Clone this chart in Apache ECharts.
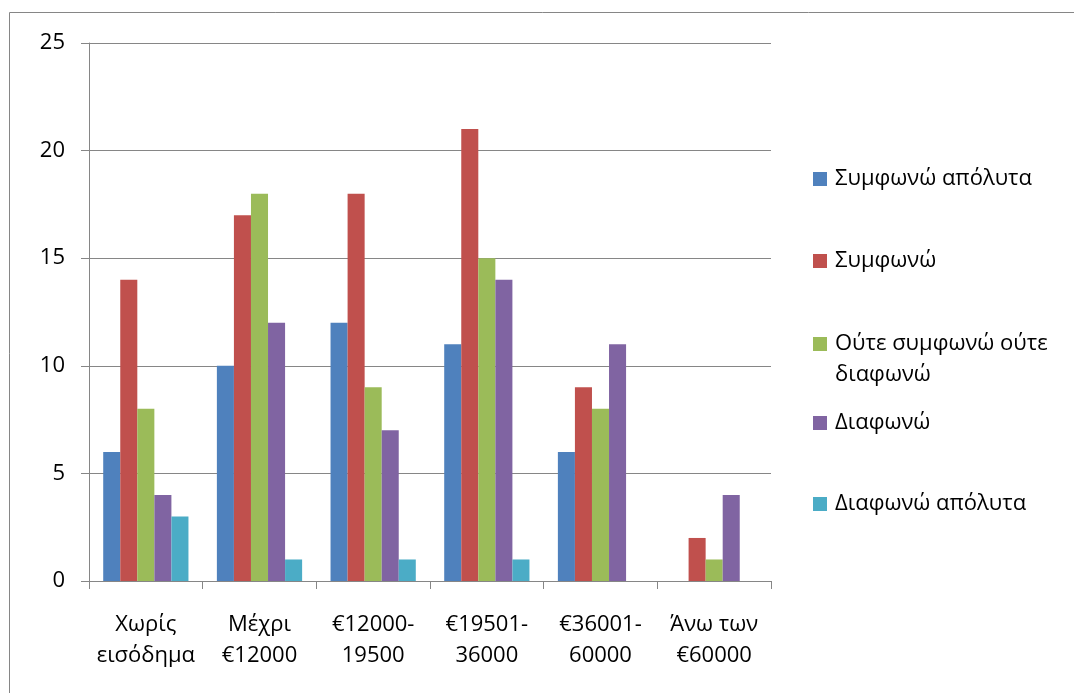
<!DOCTYPE html>
<html><head><meta charset="utf-8">
<script src="https://cdn.jsdelivr.net/npm/echarts@6/dist/echarts.min.js"></script>
<style>html,body{margin:0;padding:0;background:#fff}#c{width:1074px;height:693px}</style>
</head><body><div id="c"></div>
<script>
const categories = ['Χωρίς\nεισόδημα', 'Μέχρι\n€12000', '€12000-\n19500', '€19501-\n36000', '€36001-\n60000', 'Άνω των\n€60000'];
const seriesNames = ['Συμφωνώ απόλυτα', 'Συμφωνώ', 'Ούτε συμφωνώ ούτε διαφωνώ', 'Διαφωνώ', 'Διαφωνώ απόλυτα'];
const agreeStrongly = [6, 10, 12, 11, 6, 0];
const agree = [14, 17, 18, 21, 9, 2];
const neutral = [8, 18, 9, 15, 8, 1];
const disagree = [4, 12, 7, 14, 11, 4];
const disagreeStrongly = [3, 1, 1, 1, 0, 0];
const yTicks = [0, 5, 10, 15, 20, 25];
const colors = ['#4F81BD', '#C0504D', '#9BBB59', '#8064A2', '#4BACC6'];
const values = [agreeStrongly, agree, neutral, disagree, disagreeStrongly];

const font = '"Open Sans", sans-serif';
const fs = 22;
const chart = echarts.init(document.getElementById('c'), null, {renderer: 'canvas'});
const legendTops = [168, 250, 333, 412, 493];
const legends = seriesNames.map((n, i) => ({
  data: [n], left: 813, top: legendTops[i], orient: 'vertical',
  itemWidth: 14, itemHeight: 14, itemGap: 0, padding: 0,
  icon: 'rect', selectedMode: false,
  formatter: (name) => name === seriesNames[2] ? 'Ούτε συμφωνώ ούτε' : name,
  textStyle: {fontFamily: font, fontSize: fs, color: '#000', padding: [0, 0, 0, 3]}
}));
chart.setOption({
  animation: false,
  color: colors,
  grid: {left: 89, top: 43, right: 303, bottom: 112, containLabel: false},
  legend: legends,
  graphic: [
    {type: 'rect', shape: {x: 9.5, y: 12.5, width: 1080, height: 700}, style: {fill: 'none', stroke: '#868686', lineWidth: 1}, z: -1},
    {type: 'text', left: 835, top: 364, style: {text: 'διαφωνώ', font: fs + 'px ' + font, fill: '#000'}}
  ],
  xAxis: {
    type: 'category', data: categories,
    axisLine: {lineStyle: {color: '#868686', width: 1}},
    axisTick: {show: true, length: 8, lineStyle: {color: '#868686'}},
    axisLabel: {fontFamily: font, fontSize: fs, color: '#000', lineHeight: 31, margin: 28, interval: 0}
  },
  yAxis: {
    type: 'value', min: yTicks[0], max: yTicks[yTicks.length - 1], interval: 5,
    axisLine: {show: true, lineStyle: {color: '#868686', width: 1}},
    axisTick: {show: true, length: 8, lineStyle: {color: '#868686'}},
    splitLine: {lineStyle: {color: '#868686', width: 1}},
    axisLabel: {fontFamily: font, fontSize: fs, color: '#000', margin: 24}
  },
  series: seriesNames.map((n, i) => ({
    name: n, type: 'bar', data: values[i], barGap: 0, barCategoryGap: '25%',
    itemStyle: {color: colors[i]}
  }))
});
</script></body></html>
